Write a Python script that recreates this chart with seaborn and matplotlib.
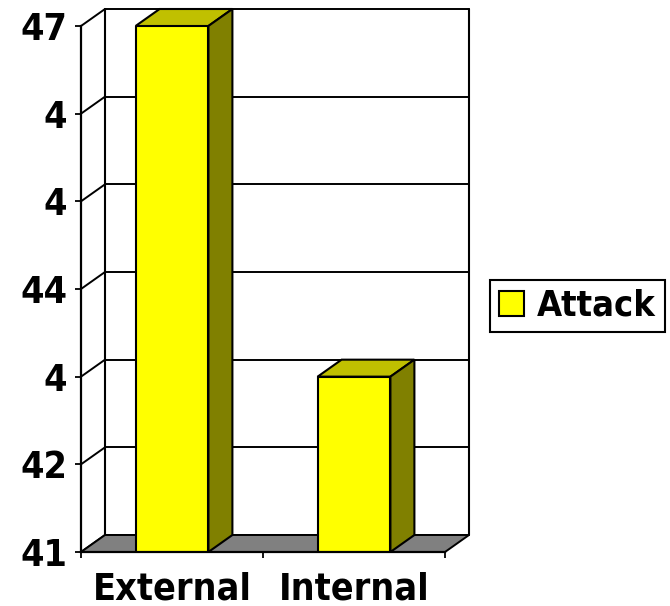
import numpy as np
import pandas as pd
import matplotlib
matplotlib.use('Agg')
import matplotlib.pyplot as plt
import seaborn as sns
from matplotlib.patches import Polygon

# data
categories = ['External', 'Internal']
attack = [47, 43]
series = ['Attack', 'Attack']
yticks = [41, 42, 43, 44, 45, 46, 47]
ytick_labels = ['41', '42', '4', '44', '4', '4', '47']

sns.set_style('ticks')
plt.rcParams['font.family'] = ['DejaVu Sans']
plt.rcParams['font.weight'] = 'bold'
plt.rcParams['font.stretch'] = 'condensed'
plt.rcParams['text.color'] = 'black'
plt.rcParams['xtick.color'] = 'black'
plt.rcParams['ytick.color'] = 'black'
plt.rcParams['xtick.labelcolor'] = 'black'
plt.rcParams['ytick.labelcolor'] = 'black'

df = pd.DataFrame({'source': categories, 'count': attack, 'series': series})

fig = plt.figure(figsize=(6.7, 6.06), dpi=100)
ax = fig.add_axes([81 / 670, 54 / 606, 364 / 670, 526 / 606])
ax.set_facecolor('none')

sns.barplot(data=df, x='source', y='count', hue='series', palette=['#ffff00'],
            saturation=1, width=0.4, edgecolor='black', linewidth=1.5, ax=ax, zorder=4)
ax.set_xlim(-0.5, 1.5)
ax.set_ylim(yticks[0], yticks[-1])
x0, x1 = ax.get_xlim()
ybot, ytop = ax.get_ylim()

# depth of the fake 3D box, in pixels -> data units
p = ax.transData.transform((0, ybot))
q = ax.transData.inverted().transform(p + np.array([24, 17]))
dx, dy = q[0], q[1] - ybot

# back wall grid and connectors
for y in yticks:
    ax.plot([x0 + dx, x1 + dx], [y + dy, y + dy], color='black', lw=1.4, zorder=1, clip_on=False)
    ax.plot([x0, x0 + dx], [y, y + dy], color='black', lw=1.4, zorder=1, clip_on=False)
for xx in (x0 + dx, x1 + dx):
    ax.plot([xx, xx], [ybot + dy, ytop + dy], color='black', lw=1.5, zorder=1, clip_on=False)

# floor
floor = Polygon([(x0, ybot), (x1, ybot), (x1 + dx, ybot + dy), (x0 + dx, ybot + dy)],
                closed=True, facecolor='#808080', edgecolor='black', lw=1.4, zorder=2, clip_on=False)
ax.add_patch(floor)

# top and side faces of the bars
for container in ax.containers:
    for bar in container:
        bx0 = bar.get_x()
        bx1 = bx0 + bar.get_width()
        h = bar.get_y() + bar.get_height()
        top = Polygon([(bx0, h), (bx1, h), (bx1 + dx, h + dy), (bx0 + dx, h + dy)],
                      closed=True, facecolor='#c0c000', edgecolor='black', lw=1.5, zorder=3, clip_on=False)
        side = Polygon([(bx1, ybot), (bx1, h), (bx1 + dx, h + dy), (bx1 + dx, ybot + dy)],
                       closed=True, facecolor='#808000', edgecolor='black', lw=1.5, zorder=3, clip_on=False)
        ax.add_patch(top)
        ax.add_patch(side)

sns.despine(ax=ax, top=True, right=True)
for s in ('left', 'bottom'):
    ax.spines[s].set_linewidth(1.6)
    ax.spines[s].set_color('black')
    ax.spines[s].set_zorder(5)

ax.set_yticks(yticks, ytick_labels)
ax.set_xticks(range(len(categories)), categories)
ax.set_xticks([-0.5, 0.5, 1.5], minor=True)
ax.tick_params(axis='y', length=4, width=1.3, pad=6, labelsize=27)
ax.tick_params(axis='x', which='major', length=0, pad=14, labelsize=27)
ax.tick_params(axis='x', which='minor', length=4, width=1.3)
ax.set_xlabel('')
ax.set_ylabel('')

handles, labels = ax.get_legend_handles_labels()
ax.legend(handles, labels, loc='center left', bbox_to_anchor=(490 / 670, 300 / 606),
          bbox_transform=fig.transFigure, fontsize=26, frameon=True, fancybox=False,
          edgecolor='black', framealpha=1, handlelength=0.7, handleheight=0.7,
          handletextpad=0.35, borderpad=0.25, borderaxespad=0)
ax.get_legend().get_frame().set_linewidth(1.5)

fig.savefig('out.png', dpi=100)
